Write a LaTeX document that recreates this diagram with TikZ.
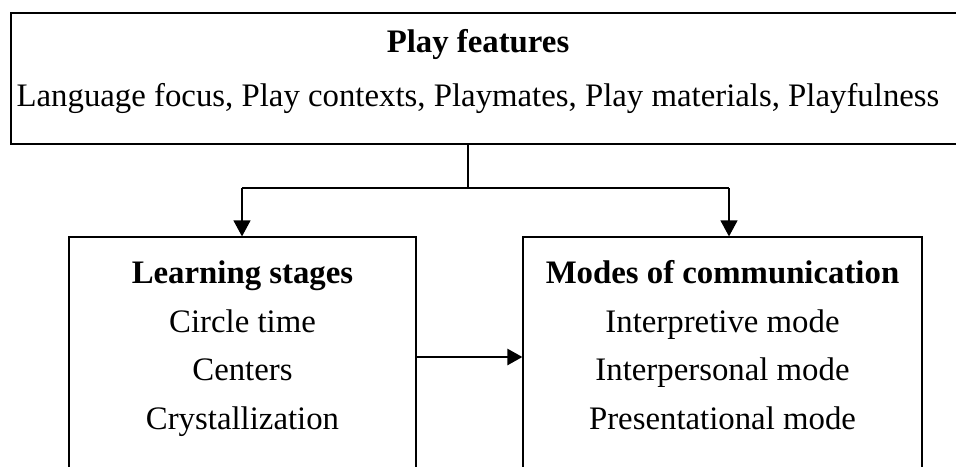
\documentclass[tikz,border=0pt]{standalone}
\usepackage{fontspec}
\setmainfont{Liberation Serif}
\usetikzlibrary{arrows.meta}
\begin{document}
\begin{tikzpicture}[x=1pt,y=-1pt,
  box/.style={draw, line width=1.2pt, rectangle, inner sep=0pt},
  txt/.style={font=\fontsize{32.8}{36}\selectfont, inner sep=0pt, text height=0.7em, text depth=0.22em, anchor=center},
  ttl/.style={txt, font=\fontsize{32.8}{36}\selectfont\bfseries},
  conn/.style={line width=1.2pt},
  arr/.style={line width=1.2pt, -{Triangle[length=16pt,width=17pt]}},
  harr/.style={line width=2.6pt, -{Triangle[length=15pt,width=16pt]}}]
\useasboundingbox (0,0) rectangle (956,466);
% boxes (bottom edges and top box right edge fall outside the page)
\node[box, minimum width=951pt, minimum height=131pt] (pf) at (486.5,78.5) {};
\node[box, minimum width=347pt, minimum height=253pt] (ls) at (242.5,363.5) {};
\node[box, minimum width=399pt, minimum height=253pt] (mc) at (722.5,363.5) {};
% texts
\node[ttl] (pft) at (478,50) {Play features};
\node[txt] (pfl) at (478,104) {Language focus, Play contexts, Playmates, Play materials, Playfulness};
\node[ttl] (lst) at (242.5,281) {Learning stages};
\node[txt] (ls1) at (242.5,330) {Circle time};
\node[txt] (ls2) at (242.5,378) {Centers};
\node[txt] (ls3) at (242.5,427) {Crystallization};
\node[ttl] (mct) at (722.5,281) {Modes of communication};
\node[txt] (mc1) at (722.5,330) {Interpretive mode};
\node[txt] (mc2) at (722.5,378) {Interpersonal mode};
\node[txt] (mc3) at (722.5,427) {Presentational mode};
% connectors
\coordinate (j) at (468,188);
\coordinate (jl) at (242,188);
\coordinate (jr) at (729,188);
\draw[conn] (pf.south -| j) -- (j);
\draw[conn] (jl) -- (jr);
\draw[arr] (jl) -- (jl |- ls.north);
\draw[arr] (jr) -- (jr |- mc.north);
\coordinate (ha) at (416,357);
\draw[harr] (ls.east |- ha) -- (mc.west |- ha);
\end{tikzpicture}
\end{document}
